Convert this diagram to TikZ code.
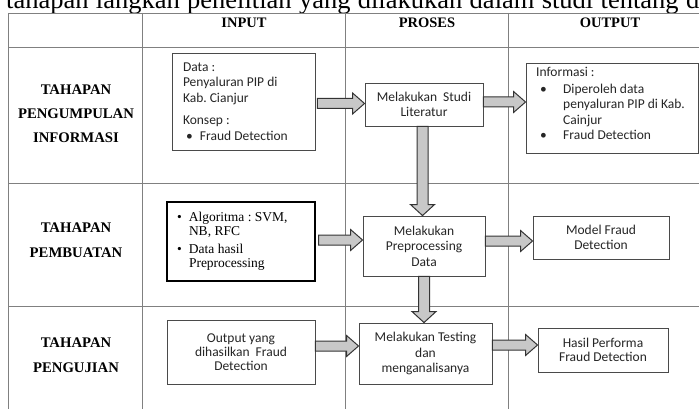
\documentclass[tikz,border=0pt]{standalone}
\usepackage{fontspec}
\setmainfont{Liberation Serif}
\newfontfamily\calfont{Carlito}
\usetikzlibrary{calc}
\frenchspacing
\definecolor{gridc}{HTML}{808080}
\definecolor{boxc}{HTML}{4A4A4A}
\definecolor{arrfill}{HTML}{C8C8C8}
\definecolor{arrline}{HTML}{333333}
\definecolor{txtc}{HTML}{262626}
% horizontal block arrow: from node, to node, y (px), start gap
\newcommand\harr[4]{%
\draw[barrow] let \p1=(#1.east), \p2=(#2.west) in
 (\x1+#4pt,-#3pt+5pt) -- (\x2-12pt,-#3pt+5pt) -- (\x2-12pt,-#3pt+10.5pt) -- (\x2,-#3pt)
 -- (\x2-12pt,-#3pt-10.5pt) -- (\x2-12pt,-#3pt-5pt) -- (\x1+#4pt,-#3pt-5pt) -- cycle;}
% vertical block arrow: from node, to node, x (px)
\newcommand\varr[3]{%
\draw[barrow] let \p1=(#1.south), \p2=(#2.north) in
 (#3pt-5.5pt,\y1) -- (#3pt-5.5pt,\y2+11pt) -- (#3pt-12pt,\y2+11pt) -- (#3pt,\y2)
 -- (#3pt+12pt,\y2+11pt) -- (#3pt+5.5pt,\y2+11pt) -- (#3pt+5.5pt,\y1) -- cycle;}
\begin{document}
\begin{tikzpicture}[x=1pt,y=-1pt,
 grid/.style={draw=gridc, line width=0.8pt},
 box/.style={draw=boxc, line width=0.9pt, fill=white, inner sep=0pt, text=txtc,
   font=\calfont\fontsize{13.5}{15.5}\selectfont},
 sbox/.style={draw=black, line width=1.3pt, fill=white, inner sep=0pt,
   font=\fontsize{13.5}{14}\selectfont},
 calt/.style={inner sep=0pt, text=txtc, font=\calfont\fontsize{13.5}{15.5}\selectfont},
 colhead/.style={font=\bfseries\fontsize{14.5}{17}\selectfont},
 rowlab/.style={align=center, font=\bfseries\fontsize{14.7}{24}\selectfont},
 barrow/.style={draw=arrline, fill=arrfill, line width=1pt, line join=miter}]
\useasboundingbox (0,0) rectangle (699,409);
\clip (0,0) rectangle (699,409);

% clipped caption line above the table
\node[anchor=base west, inner sep=0pt, font=\fontsize{26.5}{30}\selectfont] (toptxt) at (6,9)
 {\hbox to 693pt{tahapan langkah penelitian yang dilakukan dalam studi tentang d}};

% table grid
\foreach \yy in {13,47,183,306} \draw[grid] (8,\yy) -- (699,\yy);
\foreach \xx in {8,142,345,508} \draw[grid] (\xx,13) -- (\xx,409);

% headers
\node[colhead] (hin) at (244,22.5) {INPUT};
\node[colhead] (hpr) at (427,22.5) {PROSES};
\node[colhead] (hout) at (610,22.5) {OUTPUT};

% row labels
\node[rowlab] (r1) at (76,113.5) {TAHAPAN\\PENGUMPULAN\\INFORMASI};
\node[rowlab, font=\bfseries\fontsize{14.7}{25}\selectfont] (r2) at (76,240.5) {TAHAPAN\\PEMBUATAN};
\node[rowlab, font=\bfseries\fontsize{14.7}{25}\selectfont] (r3) at (76,355.5) {TAHAPAN\\PENGUJIAN};

% row 1
\node[box, minimum width=143, minimum height=97, inner xsep=11pt] (in1) at (243.5,101.5)
 {\parbox{121pt}{\raggedright Data :\\Penyaluran PIP di\\Kab. Cianjur\\[7pt]Konsep :\\\makebox[17pt][l]{\hspace*{3pt}\textbullet}Fraud Detection}};
\node[box, minimum width=118, minimum height=43, align=center] (pr1) at (424,104.5)
 {Melakukan\hspace{6pt}Studi\\Literatur};
\node[box, minimum width=172, minimum height=90] (out1) at (612,108) {};
\node[calt, anchor=north west, align=left] (out1t) at (536,67)
 {Informasi :\\[1.5pt]\makebox[27pt][l]{\hspace*{4pt}\textbullet}Diperoleh data\\\hspace*{27pt}penyaluran PIP di Kab.\\\hspace*{27pt}Cainjur\\\makebox[27pt][l]{\hspace*{4pt}\textbullet}Fraud Detection};

% row 2
\node[sbox, minimum width=148, minimum height=79, inner xsep=10pt] (in2) at (241,241.5)
 {\parbox{128pt}{\raggedright\makebox[12pt][l]{\textbullet}Algoritma : SVM,\\\hspace*{12pt}NB, RFC\\[4pt]\makebox[12pt][l]{\textbullet}Data hasil\\\hspace*{12pt}Preprocessing}};
\node[box, minimum width=122, minimum height=60, align=center] (pr2) at (424,246)
 {Melakukan\\Preprocessing\\Data};
\node[box, minimum width=136, minimum height=43, align=center] (out2) at (601,237.5)
 {Model Fraud\\Detection};

% row 3
\node[box, minimum width=148, minimum height=64, align=center, font=\calfont\fontsize{13.5}{14}\selectfont] (in3) at (241,352)
 {Output yang\\dihasilkan\hspace{6pt}Fraud\\Detection};
\node[box, minimum width=133, minimum height=61, align=center] (pr3) at (425.5,353.5)
 {Melakukan Testing\\dan\\menganalisanya};
\node[box, minimum width=130, minimum height=44, align=center, font=\calfont\fontsize{13.5}{14}\selectfont] (out3) at (603,350)
 {Hasil Performa\\Fraud Detection};

% block arrows
\harr{in1}{pr1}{103.5}{2}
\harr{pr1}{out1}{102}{0}
\harr{in2}{pr2}{240}{3}
\harr{pr2}{out2}{241}{0}
\harr{in3}{pr3}{346}{0}
\harr{pr3}{out3}{345}{0}
\varr{pr1}{pr2}{422.5}
\varr{pr2}{pr3}{424}
\end{tikzpicture}
\end{document}
